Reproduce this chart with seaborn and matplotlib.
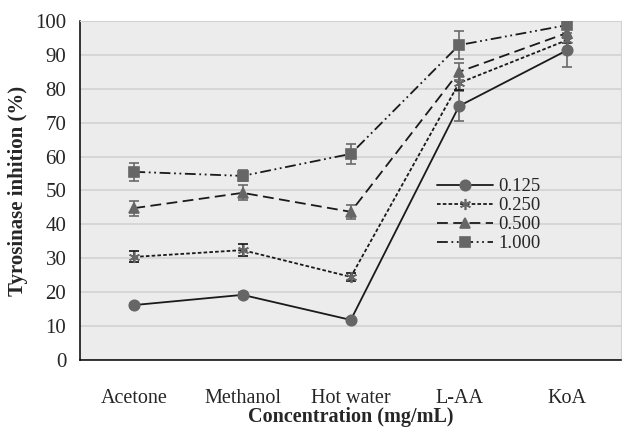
import numpy as np
import pandas as pd
import matplotlib
matplotlib.use('Agg')
import matplotlib.pyplot as plt
import seaborn as sns

solvents = ['Acetone', 'Methanol', 'Hot water', 'L-AA', 'KoA']
conc = ['0.125', '0.250', '0.500', '1.000']
inh_0125 = [16.2, 19.2, 11.8, 74.9, 91.4]
inh_0250 = [30.4, 32.4, 24.5, 81.7, 94.4]
inh_0500 = [44.8, 49.3, 43.7, 85.0, 96.5]
inh_1000 = [55.5, 54.3, 60.8, 92.9, 98.8]
err_0125 = [0.6, 0.8, 0.6, 4.4, 5.0]
err_0250 = [1.6, 1.8, 1.2, 2.0, 1.0]
err_0500 = [2.2, 2.2, 2.0, 2.5, 1.0]
err_1000 = [2.7, 1.6, 3.0, 4.1, 1.0]

vals = [inh_0125, inh_0250, inh_0500, inh_1000]
errs = [err_0125, err_0250, err_0500, err_1000]
markers = ['o', (6, 2, 0), '^', 's']
msizes = [7.5, 8, 7.5, 7.5]
dashes = ['-', (0, (2, 1.2)), (0, (6, 3)), (0, (6, 2, 1, 2, 1, 2))]
ecolors = ['#6a6a6a', '#111111', '#6a6a6a', '#6a6a6a']

sns.set_style('white')
plt.rcParams['font.family'] = ['Liberation Serif', 'DejaVu Serif']
fig, ax = plt.subplots(figsize=(6.22, 4.29), dpi=100)
fig.subplots_adjust(left=0.129, right=0.999, top=0.951, bottom=0.161)
ax.set_facecolor('#ececec')

x = np.arange(len(solvents))
for i in range(len(conc)):
    df = pd.DataFrame({'x': x, 'y': vals[i]})
    ax.errorbar(x, vals[i], yerr=errs[i], fmt='none', ecolor=ecolors[i],
                elinewidth=1.2, capsize=3.5, capthick=1.2, zorder=2)
    sns.lineplot(data=df, x='x', y='y', ax=ax, color='#1a1a1a', lw=1.3,
                 linestyle=dashes[i], marker=markers[i], markersize=msizes[i],
                 markerfacecolor='#666666', markeredgecolor='#666666',
                 markeredgewidth=1.2, label=conc[i], zorder=3)

ax.set_xlim(-0.5, 4.5)
ax.set_ylim(0, 100)
ax.set_yticks(range(0, 101, 10))
ax.yaxis.grid(True, color='#d2d2d2', lw=1.2)
ax.set_axisbelow(True)
ax.set_xticks(np.arange(-0.5, 5, 1))
ax.set_xticklabels([])
ax.set_xticks(x, minor=True)
ax.set_xticklabels(solvents, minor=True, fontsize=14.5)
ax.tick_params(axis='x', which='minor', length=0, pad=21)
ax.tick_params(axis='x', which='major', length=6, width=1, direction='out', color='black')
ax.tick_params(axis='y', length=6, width=1, direction='out', color='black', labelsize=15, pad=4)
for s in ['left', 'bottom']:
    ax.spines[s].set_color('black')
    ax.spines[s].set_linewidth(1.1)
for s in ['top', 'right']:
    ax.spines[s].set_color('#d2d2d2')

ax.set_xlabel('Concentration (mg/mL)', fontsize=14.5, fontweight='bold', labelpad=-1)
ax.set_ylabel('Tyrosinase inhition (%)', fontsize=15, fontweight='bold', labelpad=5)

ax.legend(loc='upper left', bbox_to_anchor=(0.635, 0.575), frameon=False,
          fontsize=13.5, handlelength=3.0, handletextpad=0.25, labelspacing=0.1,
          borderpad=0.2)

plt.savefig('out.png', dpi=100)
